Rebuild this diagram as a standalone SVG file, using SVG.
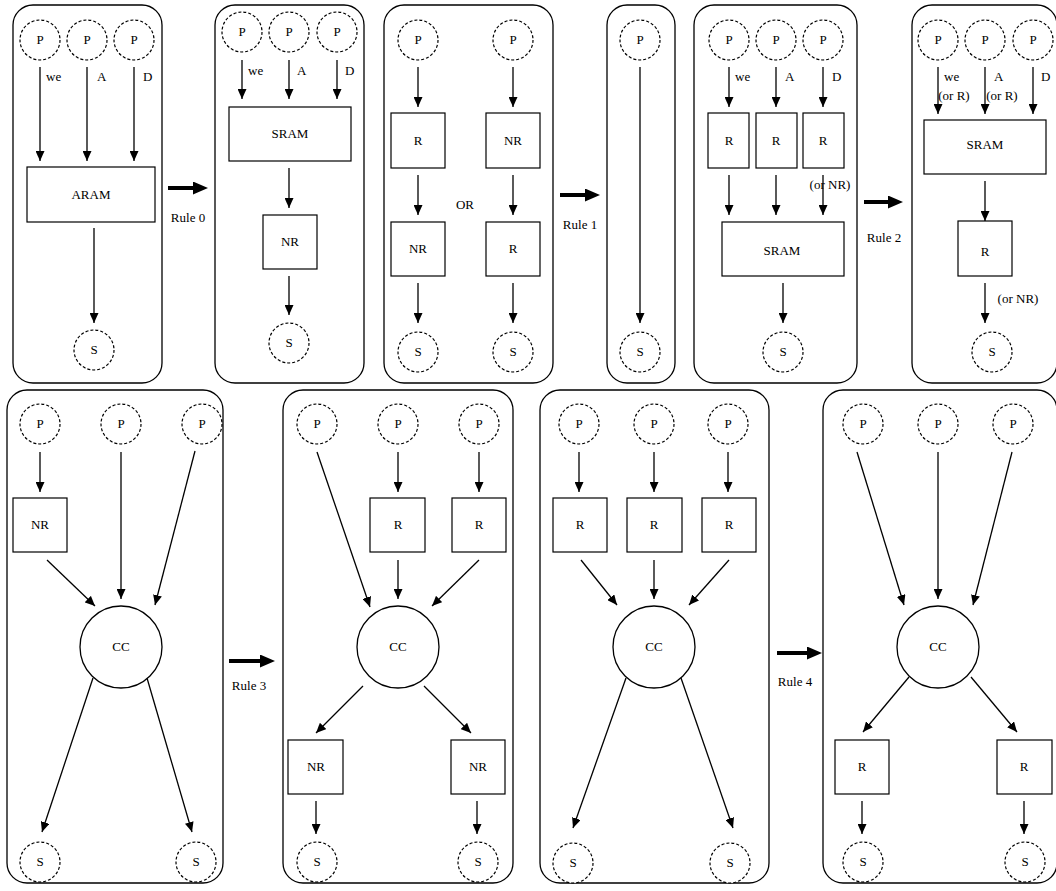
<svg xmlns="http://www.w3.org/2000/svg" width="1056" height="891" viewBox="0 0 1056 891">
<defs>
<style>
.panel{fill:none;stroke:#000;stroke-width:1.3}
.port{fill:#fff;stroke:#000;stroke-width:1.2;stroke-dasharray:3,2}
.box{fill:#fff;stroke:#000;stroke-width:1.2}
.cc{fill:#fff;stroke:#000;stroke-width:1.3}
text{font-family:'Liberation Serif','DejaVu Serif',serif;font-size:13px;fill:#000}
.t{text-anchor:middle}
.e{fill:none;stroke:#000;stroke-width:1.3;marker-end:url(#ah)}
.big{fill:none;stroke:#000;stroke-width:4;marker-end:url(#bh)}
</style>
<marker id="ah" markerUnits="userSpaceOnUse" markerWidth="10" markerHeight="9" refX="10" refY="4.5" orient="auto"><path d="M0,0 L10,4.5 L0,9 z" fill="#000"/></marker>
<marker id="bh" markerUnits="userSpaceOnUse" markerWidth="15" markerHeight="13" refX="0" refY="6.5" orient="auto"><path d="M0,0 L15,6.5 L0,13 z" fill="#000"/></marker>
</defs>
<rect width="1056" height="891" fill="#fff"/>

<g id="panels">
<rect class="panel" x="13" y="5" width="149" height="378" rx="20"/>
<rect class="panel" x="215" y="5" width="149" height="378" rx="20"/>
<rect class="panel" x="384" y="5" width="169" height="378" rx="20"/>
<rect class="panel" x="607" y="5" width="68" height="378" rx="20"/>
<rect class="panel" x="694" y="5" width="163" height="378" rx="20"/>
<rect class="panel" x="912" y="5" width="145" height="378" rx="20"/>
<rect class="panel" x="7" y="390" width="216" height="493" rx="20"/>
<rect class="panel" x="283" y="390" width="230" height="493" rx="20"/>
<rect class="panel" x="540" y="390" width="229" height="493" rx="20"/>
<rect class="panel" x="823" y="390" width="234" height="493" rx="20"/>
</g>

<g id="connectors">
<line class="e" x1="40" y1="67" x2="40" y2="161"/>
<line class="e" x1="87" y1="67" x2="87" y2="161"/>
<line class="e" x1="134" y1="67" x2="134" y2="161"/>
<line class="e" x1="94" y1="228" x2="94" y2="323"/>
<line class="e" x1="242" y1="60" x2="242" y2="99"/>
<line class="e" x1="289" y1="60" x2="289" y2="99"/>
<line class="e" x1="337" y1="60" x2="337" y2="99"/>
<line class="e" x1="289" y1="168" x2="289" y2="208"/>
<line class="e" x1="289" y1="276" x2="289" y2="315"/>
<line class="e" x1="418" y1="67" x2="418" y2="107"/>
<line class="e" x1="418" y1="175" x2="418" y2="215"/>
<line class="e" x1="418" y1="283" x2="418" y2="323"/>
<line class="e" x1="513" y1="67" x2="513" y2="107"/>
<line class="e" x1="513" y1="175" x2="513" y2="215"/>
<line class="e" x1="513" y1="283" x2="513" y2="323"/>
<line class="e" x1="640" y1="67" x2="640" y2="323"/>
<line class="e" x1="729" y1="67" x2="729" y2="107"/>
<line class="e" x1="776" y1="67" x2="776" y2="107"/>
<line class="e" x1="823" y1="67" x2="823" y2="107"/>
<line class="e" x1="729" y1="175" x2="729" y2="215"/>
<line class="e" x1="776" y1="175" x2="776" y2="215"/>
<line class="e" x1="823" y1="175" x2="823" y2="215"/>
<line class="e" x1="783" y1="283" x2="783" y2="323"/>
<line class="e" x1="938" y1="67" x2="938" y2="114"/>
<line class="e" x1="985" y1="67" x2="985" y2="114"/>
<line class="e" x1="1033" y1="67" x2="1033" y2="114"/>
<line class="e" x1="985" y1="181" x2="985" y2="221"/>
<line class="e" x1="985" y1="283" x2="985" y2="323"/>
<line class="e" x1="40" y1="452" x2="40" y2="492"/>
<line class="e" x1="47" y1="560" x2="95" y2="606"/>
<line class="e" x1="121" y1="452" x2="121" y2="599"/>
<line class="e" x1="195" y1="451" x2="155" y2="605"/>
<line class="e" x1="93" y1="678" x2="42" y2="832"/>
<line class="e" x1="147" y1="678" x2="192" y2="832"/>
<line class="e" x1="317" y1="452" x2="370" y2="607"/>
<line class="e" x1="398" y1="452" x2="398" y2="492"/>
<line class="e" x1="479" y1="452" x2="479" y2="492"/>
<line class="e" x1="398" y1="560" x2="398" y2="599"/>
<line class="e" x1="479" y1="560" x2="432" y2="606"/>
<line class="e" x1="363" y1="686" x2="316" y2="733"/>
<line class="e" x1="424" y1="686" x2="471" y2="733"/>
<line class="e" x1="316" y1="801" x2="316" y2="834"/>
<line class="e" x1="477" y1="801" x2="477" y2="834"/>
<line class="e" x1="579" y1="452" x2="579" y2="492"/>
<line class="e" x1="654" y1="452" x2="654" y2="492"/>
<line class="e" x1="728" y1="452" x2="728" y2="492"/>
<line class="e" x1="581" y1="560" x2="617" y2="605"/>
<line class="e" x1="654" y1="560" x2="654" y2="599"/>
<line class="e" x1="729" y1="560" x2="689" y2="605"/>
<line class="e" x1="626" y1="678" x2="573" y2="828"/>
<line class="e" x1="681" y1="678" x2="733" y2="828"/>
<line class="e" x1="857" y1="452" x2="904" y2="605"/>
<line class="e" x1="938" y1="452" x2="938" y2="599"/>
<line class="e" x1="1012" y1="452" x2="973" y2="605"/>
<line class="e" x1="909" y1="677" x2="863" y2="732"/>
<line class="e" x1="971" y1="677" x2="1017" y2="732"/>
<line class="e" x1="862" y1="801" x2="862" y2="834"/>
<line class="e" x1="1024" y1="801" x2="1024" y2="834"/>
<line class="big" x1="168" y1="188" x2="193" y2="188"/>
<line class="big" x1="560" y1="195" x2="585" y2="195"/>
<line class="big" x1="864" y1="202" x2="888" y2="202"/>
<line class="big" x1="229" y1="661" x2="260" y2="661"/>
<line class="big" x1="777" y1="653" x2="807" y2="653"/>
</g>

<g id="edge-labels">
<text x="46" y="81">we</text>
<text x="97" y="81">A</text>
<text x="143" y="81">D</text>
<text x="248" y="75">we</text>
<text x="297" y="75">A</text>
<text x="345" y="75">D</text>
<text x="735" y="81">we</text>
<text x="785" y="81">A</text>
<text x="832" y="81">D</text>
<text class="t" x="830" y="189">(or NR)</text>
<text x="944" y="81">we</text>
<text class="t" x="954" y="100">(or R)</text>
<text x="994" y="81">A</text>
<text class="t" x="1002" y="100">(or R)</text>
<text x="1041" y="81">D</text>
<text class="t" x="1018" y="303">(or NR)</text>
<text class="t" x="465" y="209">OR</text>
<text class="t" x="188" y="222">Rule 0</text>
<text class="t" x="580" y="229">Rule 1</text>
<text class="t" x="884" y="242">Rule 2</text>
<text class="t" x="249" y="690">Rule 3</text>
<text class="t" x="795" y="686">Rule 4</text>
</g>

<g id="p1-P1"><circle class="port" cx="40" cy="40" r="20"/><text class="t" x="40" y="44">P</text></g>
<g id="p1-P2"><circle class="port" cx="87" cy="40" r="20"/><text class="t" x="87" y="44">P</text></g>
<g id="p1-P3"><circle class="port" cx="134" cy="40" r="20"/><text class="t" x="134" y="44">P</text></g>
<g id="p1-ARAM"><rect class="box" x="27" y="167" width="128" height="55"/><text class="t" x="91" y="199">ARAM</text></g>
<g id="p1-S"><circle class="port" cx="94" cy="350" r="20"/><text class="t" x="94" y="354">S</text></g>

<g id="p2-P1"><circle class="port" cx="242" cy="32" r="20"/><text class="t" x="242" y="36">P</text></g>
<g id="p2-P2"><circle class="port" cx="289" cy="32" r="20"/><text class="t" x="289" y="36">P</text></g>
<g id="p2-P3"><circle class="port" cx="337" cy="32" r="20"/><text class="t" x="337" y="36">P</text></g>
<g id="p2-SRAM"><rect class="box" x="229" y="107" width="122" height="54"/><text class="t" x="290" y="138">SRAM</text></g>
<g id="p2-NR"><rect class="box" x="263" y="215" width="54" height="54"/><text class="t" x="290" y="246">NR</text></g>
<g id="p2-S"><circle class="port" cx="289" cy="343" r="20"/><text class="t" x="289" y="347">S</text></g>

<g id="p3-P1"><circle class="port" cx="418" cy="40" r="20"/><text class="t" x="418" y="44">P</text></g>
<g id="p3-P2"><circle class="port" cx="513" cy="40" r="20"/><text class="t" x="513" y="44">P</text></g>
<g id="p3-R1"><rect class="box" x="391" y="113" width="54" height="55"/><text class="t" x="418" y="145">R</text></g>
<g id="p3-NR1"><rect class="box" x="486" y="113" width="54" height="55"/><text class="t" x="513" y="145">NR</text></g>
<g id="p3-NR2"><rect class="box" x="391" y="222" width="54" height="54"/><text class="t" x="418" y="253">NR</text></g>
<g id="p3-R2"><rect class="box" x="486" y="222" width="54" height="54"/><text class="t" x="513" y="253">R</text></g>
<g id="p3-S1"><circle class="port" cx="418" cy="352" r="20"/><text class="t" x="418" y="356">S</text></g>
<g id="p3-S2"><circle class="port" cx="513" cy="352" r="20"/><text class="t" x="513" y="356">S</text></g>

<g id="p4-P"><circle class="port" cx="640" cy="40" r="20"/><text class="t" x="640" y="44">P</text></g>
<g id="p4-S"><circle class="port" cx="640" cy="352" r="20"/><text class="t" x="640" y="356">S</text></g>

<g id="p5-P1"><circle class="port" cx="729" cy="40" r="20"/><text class="t" x="729" y="44">P</text></g>
<g id="p5-P2"><circle class="port" cx="776" cy="40" r="20"/><text class="t" x="776" y="44">P</text></g>
<g id="p5-P3"><circle class="port" cx="823" cy="40" r="20"/><text class="t" x="823" y="44">P</text></g>
<g id="p5-R1"><rect class="box" x="708" y="113" width="41" height="55"/><text class="t" x="729" y="145">R</text></g>
<g id="p5-R2"><rect class="box" x="756" y="113" width="41" height="55"/><text class="t" x="776" y="145">R</text></g>
<g id="p5-R3"><rect class="box" x="803" y="113" width="41" height="55"/><text class="t" x="823" y="145">R</text></g>
<g id="p5-SRAM"><rect class="box" x="722" y="222" width="122" height="54"/><text class="t" x="782" y="255">SRAM</text></g>
<g id="p5-S"><circle class="port" cx="783" cy="352" r="20"/><text class="t" x="783" y="356">S</text></g>

<g id="p6-P1"><circle class="port" cx="938" cy="40" r="20"/><text class="t" x="938" y="44">P</text></g>
<g id="p6-P2"><circle class="port" cx="985" cy="40" r="20"/><text class="t" x="985" y="44">P</text></g>
<g id="p6-P3"><circle class="port" cx="1033" cy="40" r="20"/><text class="t" x="1033" y="44">P</text></g>
<g id="p6-SRAM"><rect class="box" x="924" y="120" width="122" height="54"/><text class="t" x="985" y="149">SRAM</text></g>
<g id="p6-R"><rect class="box" x="958" y="221" width="54" height="55"/><text class="t" x="985" y="256">R</text></g>
<g id="p6-S"><circle class="port" cx="992" cy="352" r="20"/><text class="t" x="992" y="356">S</text></g>

<g id="p7-P1"><circle class="port" cx="40" cy="424" r="20"/><text class="t" x="40" y="428">P</text></g>
<g id="p7-P2"><circle class="port" cx="121" cy="424" r="20"/><text class="t" x="121" y="428">P</text></g>
<g id="p7-P3"><circle class="port" cx="202" cy="424" r="20"/><text class="t" x="202" y="428">P</text></g>
<g id="p7-NR"><rect class="box" x="13" y="498" width="54" height="54"/><text class="t" x="40" y="529">NR</text></g>
<g id="p7-CC"><circle class="cc" cx="121" cy="647" r="41"/><text class="t" x="121" y="651">CC</text></g>
<g id="p7-S1"><circle class="port" cx="40" cy="862" r="20"/><text class="t" x="40" y="866">S</text></g>
<g id="p7-S2"><circle class="port" cx="196" cy="862" r="20"/><text class="t" x="196" y="866">S</text></g>

<g id="p8-P1"><circle class="port" cx="317" cy="424" r="20"/><text class="t" x="317" y="428">P</text></g>
<g id="p8-P2"><circle class="port" cx="398" cy="424" r="20"/><text class="t" x="398" y="428">P</text></g>
<g id="p8-P3"><circle class="port" cx="479" cy="424" r="20"/><text class="t" x="479" y="428">P</text></g>
<g id="p8-R1"><rect class="box" x="370" y="498" width="55" height="54"/><text class="t" x="398" y="529">R</text></g>
<g id="p8-R2"><rect class="box" x="452" y="498" width="54" height="54"/><text class="t" x="479" y="529">R</text></g>
<g id="p8-CC"><circle class="cc" cx="398" cy="647" r="41"/><text class="t" x="398" y="651">CC</text></g>
<g id="p8-NR1"><rect class="box" x="288" y="740" width="55" height="54"/><text class="t" x="316" y="771">NR</text></g>
<g id="p8-NR2"><rect class="box" x="451" y="740" width="54" height="54"/><text class="t" x="478" y="771">NR</text></g>
<g id="p8-S1"><circle class="port" cx="317" cy="862" r="20"/><text class="t" x="317" y="866">S</text></g>
<g id="p8-S2"><circle class="port" cx="478" cy="862" r="20"/><text class="t" x="478" y="866">S</text></g>

<g id="p9-P1"><circle class="port" cx="579" cy="424" r="20"/><text class="t" x="579" y="428">P</text></g>
<g id="p9-P2"><circle class="port" cx="654" cy="424" r="20"/><text class="t" x="654" y="428">P</text></g>
<g id="p9-P3"><circle class="port" cx="728" cy="424" r="20"/><text class="t" x="728" y="428">P</text></g>
<g id="p9-R1"><rect class="box" x="553" y="498" width="54" height="54"/><text class="t" x="580" y="529">R</text></g>
<g id="p9-R2"><rect class="box" x="627" y="498" width="55" height="54"/><text class="t" x="654" y="529">R</text></g>
<g id="p9-R3"><rect class="box" x="702" y="498" width="54" height="54"/><text class="t" x="729" y="529">R</text></g>
<g id="p9-CC"><circle class="cc" cx="654" cy="647" r="41"/><text class="t" x="654" y="651">CC</text></g>
<g id="p9-S1"><circle class="port" cx="573" cy="863" r="20"/><text class="t" x="573" y="867">S</text></g>
<g id="p9-S2"><circle class="port" cx="730" cy="863" r="20"/><text class="t" x="730" y="867">S</text></g>

<g id="p10-P1"><circle class="port" cx="863" cy="424" r="20"/><text class="t" x="863" y="428">P</text></g>
<g id="p10-P2"><circle class="port" cx="938" cy="424" r="20"/><text class="t" x="938" y="428">P</text></g>
<g id="p10-P3"><circle class="port" cx="1013" cy="424" r="20"/><text class="t" x="1013" y="428">P</text></g>
<g id="p10-CC"><circle class="cc" cx="938" cy="647" r="41"/><text class="t" x="938" y="651">CC</text></g>
<g id="p10-R1"><rect class="box" x="835" y="740" width="54" height="54"/><text class="t" x="862" y="771">R</text></g>
<g id="p10-R2"><rect class="box" x="997" y="740" width="55" height="54"/><text class="t" x="1024" y="771">R</text></g>
<g id="p10-S1"><circle class="port" cx="863" cy="862" r="20"/><text class="t" x="863" y="866">S</text></g>
<g id="p10-S2"><circle class="port" cx="1025" cy="862" r="20"/><text class="t" x="1025" y="866">S</text></g>
</svg>
